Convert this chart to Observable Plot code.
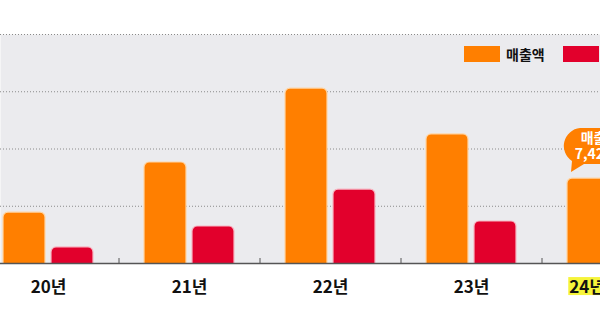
<!DOCTYPE html>
<html>
<head>
<meta charset="utf-8">
<script src="https://cdn.jsdelivr.net/npm/d3@7"></script>
<script src="https://cdn.jsdelivr.net/npm/@observablehq/plot@0.6"></script>
<style>
  html, body { margin: 0; padding: 0; background: #fff; overflow: hidden; }
  #wrap { position: relative; width: 600px; height: 311px; overflow: hidden; font-family: "Noto Sans CJK KR", "Noto Sans", sans-serif; }
  #wrap svg { display: block; overflow: hidden; }
  .legend { position: absolute; top: 46px; left: 464px; display: flex; align-items: center; white-space: nowrap; font-size: 14px; font-weight: 700; color: #111; }
  .sw { display: inline-block; width: 36px; height: 16px; }
  .lt { margin-left: 6px; margin-right: 18px; line-height: 16px; }
</style>
</head>
<body>
<div id="wrap"></div>
<script>
// ---- data ----
const years = ["20년", "21년", "22년", "23년", "24년 상반기"];
const sales = [4450, 8820, 15280, 11270, 7420];      // 매출액 (억원)
const profit = [1400, 3230, 6460, 3670, 2900];       // 영업이익 (억원)
const seriesNames = ["매출액", "영업이익"];
const yTicks = [0, 5000, 10000, 15000, 20000];
const highlightYear = "24년 상반기";
const calloutLines = ["매출액", "7,420억"];

const colors = {"매출액": "#ff7f00", "영업이익": "#e2002c"};
const halos = {"매출액": "#ffd6a6", "영업이익": "#f7b8c4"};

const rows = years.flatMap((y, i) => [
  {year: y, series: seriesNames[0], value: sales[i]},
  {year: y, series: seriesNames[1], value: profit[i]}
]);

const barStyle = (name, insetLeft, insetRight) => Plot.barY(rows.filter(d => d.series === name), {
  x: "year", y: "value",
  fill: colors[name], stroke: halos[name], strokeWidth: 1.2,
  rx: 5, insetLeft, insetRight, insetBottom: -10, clip: true
});

const chart = Plot.plot({
  width: 600,
  height: 311,
  marginTop: 34,
  marginBottom: 48,
  marginLeft: 0,
  marginRight: 0,
  style: {background: "transparent", fontFamily: "'Noto Sans CJK KR', sans-serif", overflow: "hidden"},
  x: {domain: years, range: [-22.5, 682.5], padding: 0, round: false},
  y: {domain: [yTicks[0], yTicks[yTicks.length - 1]], axis: null},
  marks: [
    Plot.frame({fill: "#ebebee", stroke: null}),
    Plot.gridY(yTicks.slice(1), {stroke: "#8a8a8a", strokeOpacity: 1, strokeDasharray: "1,2", strokeWidth: 1}),
    barStyle(seriesNames[0], 25.5, 73.5),
    barStyle(seriesNames[1], 73.5, 25.5),
    Plot.ruleY([0], {stroke: "#555", strokeWidth: 1.5}),
    Plot.tickX(years.slice(0, -1), {x: d => d, dx: 70.5, insetTop: 224, stroke: "#555", strokeWidth: 1}),
    Plot.axisX({tickSize: 0, tickPadding: 17, fontSize: 17, fontWeight: 700, color: "#111", label: null})
  ]
});

document.getElementById("wrap").appendChild(chart);

// yellow highlight behind the highlighted year label
const svg = chart.tagName.toLowerCase() === "svg" ? chart : chart.querySelector("svg");
svg.querySelectorAll("text").forEach(t => {
  if (t.textContent === highlightYear) {
    const b = t.getBBox();
    const r = document.createElementNS("http://www.w3.org/2000/svg", "rect");
    r.setAttribute("x", b.x - 1);
    r.setAttribute("y", b.y + (b.height - 18) / 2 + 1);
    r.setAttribute("width", b.width + 2);
    r.setAttribute("height", 18);
    r.setAttribute("fill", "#f6f43a");
    const tf = t.getAttribute("transform");
    if (tf) r.setAttribute("transform", tf);
    t.parentNode.insertBefore(r, t);
  }
});

// callout bubble anchored on the highlighted year's 매출액 bar
const xs = chart.scale("x"), ys = chart.scale("y");
const idx = years.indexOf(highlightYear);
const bx = xs.apply(highlightYear) + xs.bandwidth / 2 - 24;
const by = ys.apply(sales[idx]);
const cx = bx + 12, cy = by - 32, w = 76, h = 36;
const g = document.createElementNS("http://www.w3.org/2000/svg", "g");
const p = document.createElementNS("http://www.w3.org/2000/svg", "path");
const l = cx - w / 2, rgt = cx + w / 2, t0 = cy - h / 2, b0 = cy + h / 2, rr = h / 2;
p.setAttribute("d",
  `M${l + rr},${t0} H${rgt - rr} A${rr},${rr} 0 0 1 ${rgt - rr},${b0} H${l + 22} L${l + 9},${b0 + 8} L${l + 10},${b0 - 3} A${rr},${rr} 0 0 1 ${l + rr},${t0} Z`);
p.setAttribute("fill", "#ff7f00");
g.appendChild(p);
calloutLines.forEach((s, i) => {
  const tx = document.createElementNS("http://www.w3.org/2000/svg", "text");
  tx.setAttribute("x", cx);
  tx.setAttribute("y", cy - 7 + i * 16);
  tx.setAttribute("text-anchor", "middle");
  tx.setAttribute("dominant-baseline", "middle");
  tx.setAttribute("fill", "#fff");
  tx.setAttribute("font-size", 14);
  tx.setAttribute("font-weight", 700);
  tx.setAttribute("font-family", "'Noto Sans CJK KR', sans-serif");
  tx.textContent = s;
  g.appendChild(tx);
});
svg.appendChild(g);

// legend (inside the plot area, top right)
const legend = document.createElement("div");
legend.className = "legend";
seriesNames.forEach(n => {
  const sw = document.createElement("span"); sw.className = "sw"; sw.style.background = colors[n];
  const lt = document.createElement("span"); lt.className = "lt"; lt.textContent = n;
  legend.appendChild(sw); legend.appendChild(lt);
});
document.getElementById("wrap").appendChild(legend);
</script>
</body>
</html>
